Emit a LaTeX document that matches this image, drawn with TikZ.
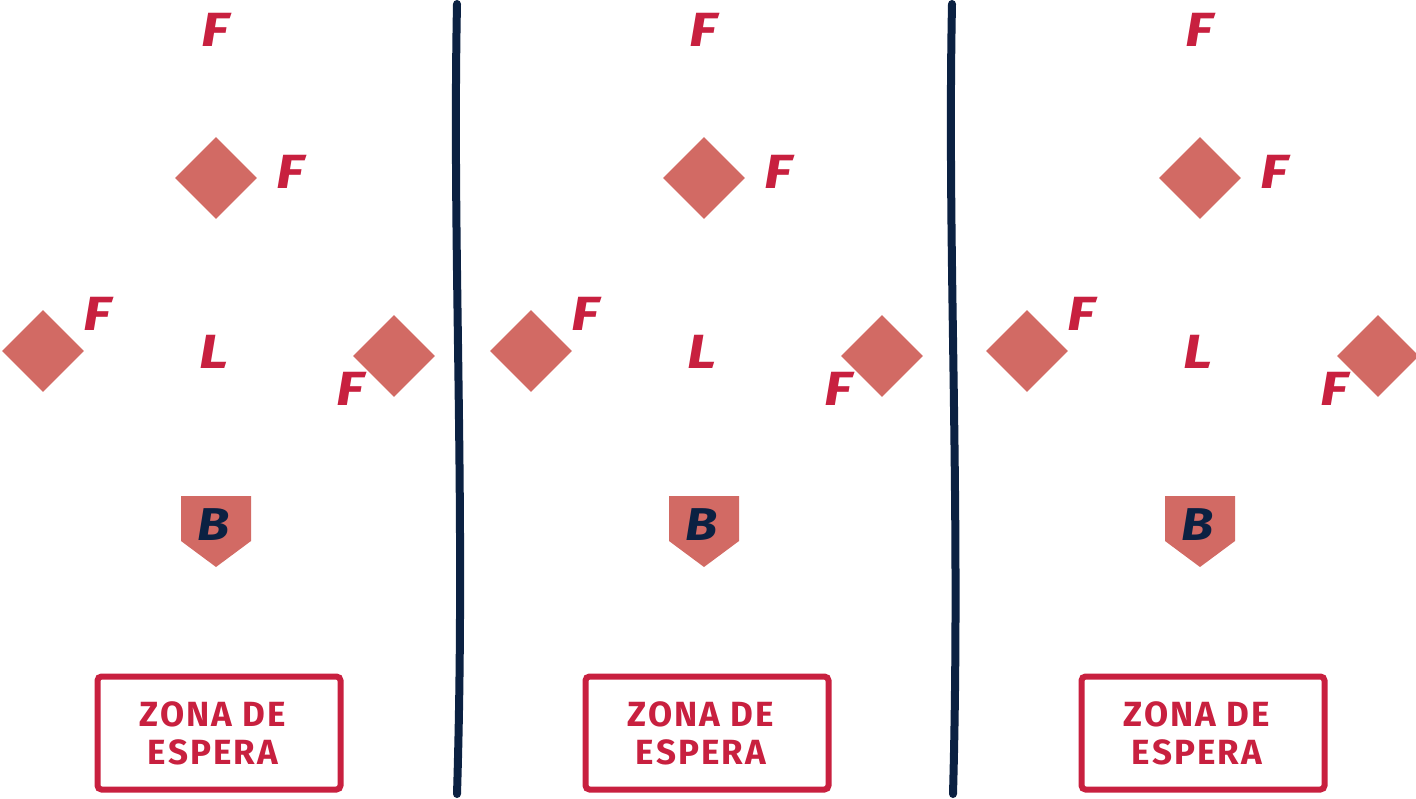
\documentclass[tikz,border=0pt]{standalone}
\usepackage{fontspec}
\setmainfont{Fira Sans}
\usetikzlibrary{shapes.geometric}
\definecolor{fred}{HTML}{C8203F}
\definecolor{base}{HTML}{D26A64}
\definecolor{navy}{HTML}{0B2142}
\tikzset{
  lbl/.style={font=\fontsize{48}{48}\selectfont\bfseries\itshape, text=fred, inner sep=0pt, xscale=1.2},
  batter/.style={font=\fontsize{46}{46}\selectfont\bfseries\itshape, text=navy, inner sep=0pt, xscale=1.15},
  basebox/.style={diamond, fill=base, minimum width=82pt, minimum height=82pt, inner sep=0pt},
  plate/.style={fill=base},
  zone/.style={draw=fred, line width=6pt, rounded corners=4pt, minimum width=243pt, minimum height=113pt},
  zonetext/.style={align=center, text=fred, inner sep=0pt,
    font=\fontsize{35}{38}\selectfont\bfseries\addfontfeature{LetterSpace=6}},
  sepline/.style={draw=navy, line width=8pt, line cap=round}
}
\begin{document}
\begin{tikzpicture}[x=1pt,y=-1pt]
\useasboundingbox (0,0) rectangle (1416,798);
\foreach \o/\n in {0/a,488/b,984/c}{
  \begin{scope}[xshift=\o pt]
    \node[basebox] (second\n) at (216,178) {};
    \node[basebox] (third\n) at (43,351) {};
    \node[basebox] (first\n) at (394,356) {};
    \node[lbl] (fcf\n) at (215,30) {F};
    \node[lbl] (fss\n) at (290,172) {F};
    \node[lbl] (ftb\n) at (97,314) {F};
    \node[lbl] (lp\n) at (214,352) {L};
    \node[lbl] (ffb\n) at (350,389) {F};
    \path[plate] (181,496) -- (251,496) -- (251,541) -- (216,567) -- (181,541) -- cycle;
    \node[batter] (bat\n) at (214,525) {B};
    \node[zone] (zone\n) at (219,733) {};
    \node[zonetext] (zonet\n) at (213,733) {ZONA DE\\ESPERA};
  \end{scope}
}
\coordinate (s1t) at (457,4);
\coordinate (s1b) at (457,794);
\draw[sepline] (s1t) .. controls (452,250) and (466,500) .. (s1b);
\coordinate (s2t) at (952,4);
\coordinate (s2b) at (953,794);
\draw[sepline] (s2t) .. controls (947,250) and (961,500) .. (s2b);
\end{tikzpicture}
\end{document}
